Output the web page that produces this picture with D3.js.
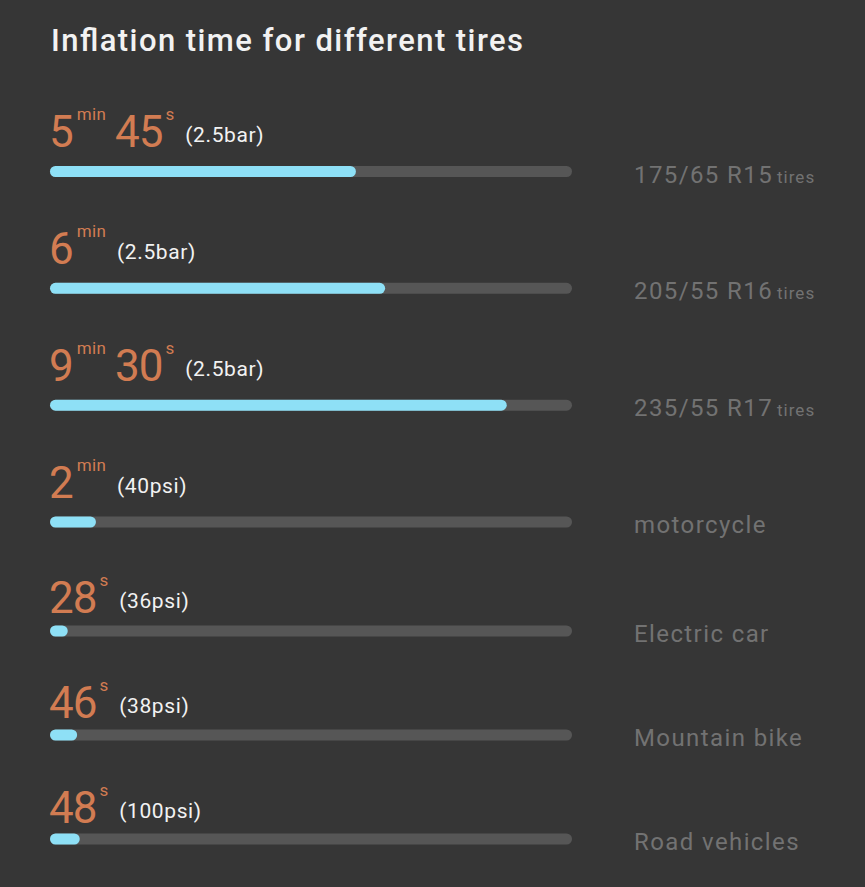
<!DOCTYPE html>
<html>
<head>
<meta charset="utf-8">
<script src="https://cdn.jsdelivr.net/npm/d3@7"></script>
<style>
  html, body { margin: 0; padding: 0; background: #363636; }
  svg { display: block; }
</style>
</head>
<body>
<script>
// ---- data ----
const title = "Inflation time for different tires";
const categories = ["175/65 R15", "205/55 R16", "235/55 R17", "motorcycle", "Electric car", "Mountain bike", "Road vehicles"];
const categorySuffix = ["tires", "tires", "tires", "", "", "", ""];
const minutes = [5, 6, 9, 2, null, null, null];
const seconds = [45, null, 30, null, 28, 46, 48];
const pressures = ["(2.5bar)", "(2.5bar)", "(2.5bar)", "(40psi)", "(36psi)", "(38psi)", "(100psi)"];
const progress = [58.6, 64.2, 87.5, 8.8, 3.4, 5.2, 5.7]; // % of the track filled

// ---- layout ----
const W = 865, H = 887;
const FONT = "Roboto, 'DejaVu Sans', sans-serif";
const C = { bg: "#363636", orange: "#d27c52", white: "#f2f2f2", track: "#565656", fill: "#8ee0f6", label: "#727272" };

const svg = d3.select("body").append("svg").attr("width", W).attr("height", H);
svg.append("rect").attr("width", W).attr("height", H).attr("fill", C.bg);

svg.append("text").attr("x", 51).attr("y", 51)
  .attr("font-family", FONT).attr("font-size", 31).attr("font-weight", 500)
  .attr("textLength", 472).attr("lengthAdjust", "spacing")
  .attr("fill", C.white).text(title);

const idx = d3.range(categories.length);
// row position scales (piecewise linear)
const yBar = d3.scaleLinear().domain([0, 3, 4, 6]).range([171.5, 522, 631, 839]);
const yNum = d3.scaleLinear().domain([0, 3, 4, 6]).range([147, 498, 613, 823]);
const x = d3.scaleLinear().domain([0, 100]).range([50, 572]);
const barH = 11;

const rows = svg.selectAll("g.row").data(idx).join("g").attr("class", "row");

// tracks
rows.append("rect")
  .attr("x", x(0)).attr("y", i => yBar(i) - barH / 2)
  .attr("width", x(100) - x(0)).attr("height", barH)
  .attr("rx", barH / 2).attr("fill", C.track);
// fills
rows.append("rect")
  .attr("x", x(0)).attr("y", i => yBar(i) - barH / 2)
  .attr("width", i => x(progress[i]) - x(0)).attr("height", barH)
  .attr("rx", barH / 2).attr("fill", C.fill);

// headline numbers
rows.each(function(i) {
  const g = d3.select(this);
  const base = yNum(i);
  let cx = 49;
  function put(txt, size, color, dy, gapBefore, ls) {
    cx += gapBefore;
    const t = g.append("text").attr("x", cx).attr("y", base + dy)
      .attr("font-family", FONT).attr("font-size", size).attr("fill", color)
      .attr("letter-spacing", ls || 0).text(txt);
    cx += t.node().getComputedTextLength();
    return t;
  }
  if (minutes[i] != null) {
    put(String(minutes[i]), 44, C.orange, 0, 0, -1);
    put("min", 17, C.orange, -27, 4, 0.3);
  }
  if (seconds[i] != null) {
    put(String(seconds[i]), 44, C.orange, 0, minutes[i] != null ? 9 : 0, -1);
    put("s", 17, C.orange, -27, 3);
  }
  put(pressures[i], 21, C.white, -5, 11, 0.6);
});

// right labels
rows.append("text")
  .attr("x", 634).attr("y", i => yBar(i) + 11)
  .attr("font-family", FONT).attr("font-size", 24).attr("fill", C.label)
  .attr("letter-spacing", 1.4)
  .each(function(i) {
    const t = d3.select(this);
    t.append("tspan").text(categories[i]);
    if (categorySuffix[i]) t.append("tspan").attr("font-size", 17).attr("letter-spacing", 1).attr("dx", 4).text(categorySuffix[i]);
  });
</script>
</body>
</html>
